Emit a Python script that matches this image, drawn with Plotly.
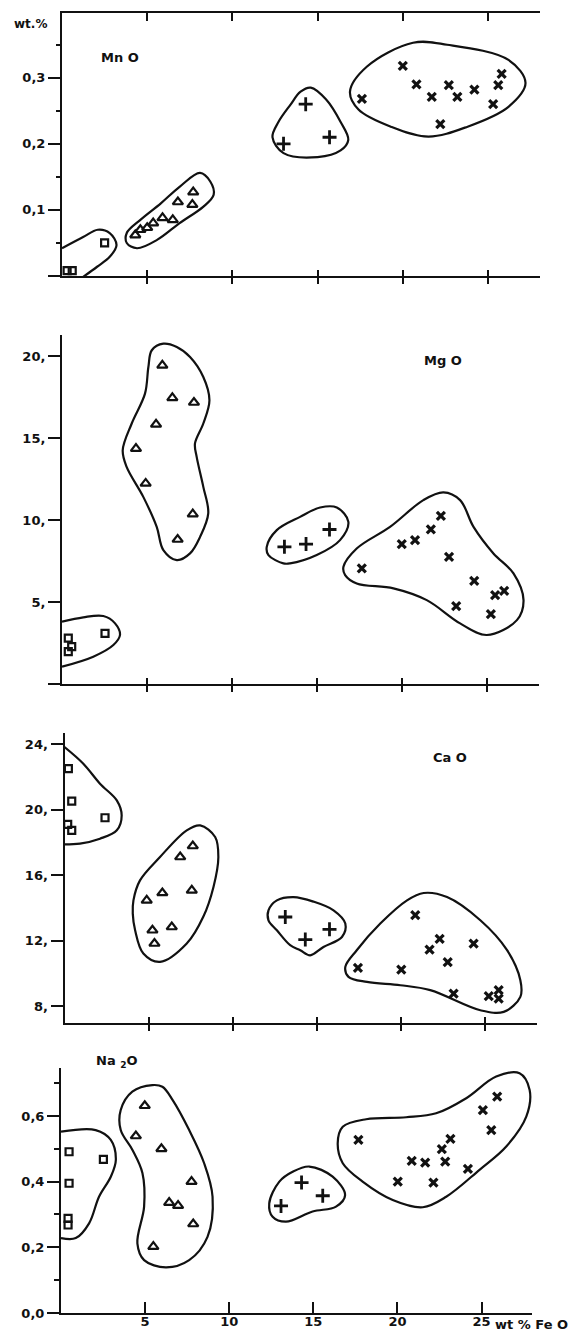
import plotly.graph_objects as go

# ---------------- data ----------------
FEO_TICKS = [5, 10, 15, 20, 25]
FEO_TICK_TEXT = ["5", "10", "15", "20", "25"]

MNO_TICKS = [0.1, 0.2, 0.3]
MNO_TICK_TEXT = ["0,1", "0,2", "0,3"]
MNO_MINOR = [0.05, 0.15, 0.25, 0.35]
MGO_TICKS = [5, 10, 15, 20]
MGO_TICK_TEXT = ["5,", "10,", "15,", "20,"]
CAO_TICKS = [8, 12, 16, 20, 24]
CAO_TICK_TEXT = ["8,", "12,", "16,", "20,", "24,"]
NA2O_TICKS = [0, 0.2, 0.4, 0.6]
NA2O_TICK_TEXT = ["0,0", "0,2", "0,4", "0,6"]
NA2O_MINOR = [0.1, 0.3, 0.5, 0.7]
ZERO_TICK = [0]

# MnO vs FeO
MNO_SQUARES = [(0.3, 0.008), (0.6, 0.008), (2.5, 0.05)]
MNO_TRIANGLES = [(4.3, 0.062), (4.6, 0.070), (5.0, 0.073), (5.35, 0.080), (5.9, 0.088),
                 (6.5, 0.085), (6.8, 0.112), (7.65, 0.108), (7.7, 0.127)]
MNO_PLUSES = [(13.0, 0.20), (14.3, 0.26), (15.7, 0.21)]
MNO_CROSSES = [(17.6, 0.268), (20.0, 0.318), (20.8, 0.29), (21.7, 0.271), (22.7, 0.289),
               (23.2, 0.271), (24.2, 0.282), (22.2, 0.23), (25.3, 0.26), (25.6, 0.289),
               (25.8, 0.306)]
MNO_SQUARES_ENV = [(0, 0.042), (1.24, 0.059), (2.1, 0.07), (2.8, 0.065), (3.2, 0.047),
                   (2.8, 0.029), (2.06, 0.014), (1.1, -0.004)]
MNO_TRIANGLES_ENV = [(3.8, 0.065), (4.6, 0.085), (5.8, 0.11), (6.9, 0.135), (8.1, 0.156),
                     (8.7, 0.143), (8.9, 0.123), (8.3, 0.105), (6.9, 0.08), (5.6, 0.055),
                     (4.4, 0.042), (3.8, 0.05)]
MNO_PLUSES_ENV = [(12.35, 0.21), (12.7, 0.233), (13.4, 0.259), (14.0, 0.279), (14.6, 0.285),
                  (15.5, 0.267), (16.35, 0.233), (16.8, 0.206), (16.35, 0.19), (15.0, 0.18),
                  (13.0, 0.186)]
MNO_CROSSES_ENV = [(16.9, 0.279), (17.9, 0.317), (20.6, 0.353), (22.6, 0.35), (26.2, 0.327),
                   (27.2, 0.292), (26.2, 0.256), (23.8, 0.226), (21.5, 0.211), (19.3, 0.226),
                   (17.4, 0.252)]

# MgO vs FeO
MGO_SQUARES = [(0.37, 2.8), (0.57, 2.28), (0.37, 1.97), (2.53, 3.09)]
MGO_TRIANGLES = [(5.9, 19.45), (6.49, 17.46), (7.76, 17.18), (5.53, 15.85), (4.35, 14.37),
                 (4.92, 12.24), (7.69, 10.37), (6.8, 8.82)]
MGO_PLUSES = [(13.08, 8.37), (14.35, 8.54), (15.73, 9.43)]
MGO_CROSSES = [(17.63, 7.05), (19.98, 8.54), (20.76, 8.78), (21.69, 9.43), (22.28, 10.26),
               (22.76, 7.76), (24.24, 6.3), (23.18, 4.76), (25.47, 5.43), (26.0, 5.69),
               (25.22, 4.27)]
MGO_SQUARES_ENV = [(0, 3.8), (1.25, 4.07), (2.43, 4.15), (3.12, 3.7), (3.41, 2.99),
                   (3.02, 2.38), (1.84, 1.67), (0, 1.06)]
MGO_TRIANGLES_ENV = [(5.96, 20.77), (5.28, 20.37), (5.08, 19.35), (4.88, 17.72), (4.1, 15.9),
                     (3.57, 14.27), (3.8, 13.25), (4.78, 11.42), (5.57, 9.59), (5.96, 8.17),
                     (6.75, 7.56), (7.53, 7.97), (8.12, 8.98), (8.6, 10.41), (8.31, 12.03),
                     (7.92, 13.86), (7.82, 14.68), (8.31, 15.9), (8.67, 17.32), (8.31, 18.74),
                     (7.53, 19.96), (6.75, 20.57)]
MGO_PLUSES_ENV = [(12.04, 8.37), (12.63, 9.39), (14.0, 10.2), (15.18, 10.77), (16.16, 10.77),
                  (16.84, 9.9), (16.35, 8.78), (14.98, 7.87), (13.41, 7.36), (13.02, 7.36),
                  (12.14, 7.87)]
MGO_CROSSES_ENV = [(16.55, 7.15), (17.33, 8.27), (19.29, 9.59), (21.25, 11.22), (22.43, 11.69),
                   (23.41, 11.22), (24.2, 9.59), (25.37, 7.97), (26.55, 6.75), (27.14, 5.12),
                   (26.75, 3.9), (24.98, 2.99), (23.41, 3.7), (21.45, 5.12), (19.49, 5.84),
                   (17.33, 6.14), (16.65, 6.65)]

# CaO vs FeO
CAO_SQUARES = [(0.23, 22.52), (0.43, 20.54), (0.19, 19.11), (0.43, 18.75), (2.41, 19.52)]
CAO_TRIANGLES = [(4.89, 14.47), (5.82, 14.92), (5.23, 12.64), (5.35, 11.83), (6.38, 12.84),
                 (7.57, 15.08), (6.88, 17.12), (7.63, 17.79)]
CAO_PLUSES = [(13.13, 13.45), (14.32, 12.07), (15.76, 12.7)]
CAO_CROSSES = [(17.45, 10.34), (20.03, 10.24), (20.86, 13.56), (22.31, 12.11), (21.71, 11.46),
               (22.79, 10.69), (24.33, 11.83), (23.14, 8.76), (25.23, 8.61), (25.82, 8.98),
               (25.82, 8.46)]
CAO_SQUARES_ENV = [(0, 23.84), (1.12, 22.82), (2.11, 21.6), (3.11, 20.58), (3.4, 19.66),
                   (3.11, 18.75), (2.11, 18.24), (0.92, 17.94), (0, 17.89)]
CAO_TRIANGLES_ENV = [(4.1, 14.47), (4.49, 15.69), (5.68, 17.12), (7.27, 18.75), (8.07, 19.05),
                     (8.96, 18.34), (9.15, 17.12), (8.86, 15.29), (8.26, 13.48), (7.27, 11.83),
                     (5.68, 10.71), (4.69, 11.22), (4.2, 12.64), (4.06, 13.66)]
CAO_PLUSES_ENV = [(12.13, 13.86), (12.63, 14.47), (13.62, 14.67), (14.81, 14.39), (16.0, 13.86),
                  (16.7, 13.05), (16.5, 12.23), (15.4, 11.62), (14.61, 11.11), (14.02, 11.42),
                  (13.42, 11.73), (12.63, 12.64), (12.13, 13.25)]
CAO_CROSSES_ENV = [(16.7, 10.4), (17.38, 11.42), (18.78, 13.05), (20.37, 14.47), (21.36, 14.92),
                   (22.75, 14.67), (24.73, 13.25), (26.32, 11.42), (27.11, 9.59), (27.11, 8.57),
                   (26.12, 7.65), (24.73, 7.75), (21.75, 8.98), (19.97, 9.28), (17.99, 9.48),
                   (16.89, 9.79)]

# Na2O vs FeO
NA2O_SQUARES = [(0.48, 0.491), (0.48, 0.395), (0.42, 0.288), (0.42, 0.268), (2.52, 0.468)]
NA2O_TRIANGLES = [(4.98, 0.631), (4.45, 0.539), (5.97, 0.5), (7.76, 0.4), (6.43, 0.336),
                  (6.96, 0.327), (7.86, 0.271), (5.49, 0.202)]
NA2O_PLUSES = [(13.08, 0.326), (14.3, 0.397), (15.56, 0.357)]
NA2O_CROSSES = [(17.68, 0.527), (20.02, 0.4), (20.85, 0.463), (21.65, 0.458), (22.14, 0.397),
                (22.64, 0.499), (22.84, 0.461), (23.15, 0.53), (24.19, 0.439), (25.08, 0.618),
                (25.58, 0.557), (25.93, 0.659)]
NA2O_SQUARES_ENV = [(0, 0.552), (2.06, 0.557), (2.96, 0.527), (3.26, 0.466), (2.96, 0.415),
                    (2.26, 0.354), (1.67, 0.273), (0.88, 0.228), (0, 0.228)]
NA2O_TRIANGLES_ENV = [(5.43, 0.694), (4.24, 0.674), (3.55, 0.618), (3.55, 0.557), (4.24, 0.497),
                      (4.84, 0.426), (4.94, 0.324), (4.54, 0.212), (4.94, 0.161), (6.23, 0.139),
                      (7.62, 0.161), (8.71, 0.232), (9.01, 0.354), (8.51, 0.456), (7.62, 0.557),
                      (6.63, 0.649), (6.03, 0.689)]
NA2O_PLUSES_ENV = [(12.38, 0.334), (12.98, 0.4), (13.77, 0.43), (14.76, 0.446), (16.15, 0.415),
                   (16.89, 0.359), (16.35, 0.324), (14.96, 0.309), (13.37, 0.278), (12.58, 0.293)]
NA2O_CROSSES_ENV = [(16.45, 0.517), (16.75, 0.567), (18.14, 0.59), (20.52, 0.596), (22.3, 0.608),
                    (24.09, 0.654), (25.87, 0.72), (27.26, 0.73), (27.86, 0.679), (27.66, 0.598),
                    (26.47, 0.507), (24.88, 0.436), (22.9, 0.354), (21.51, 0.322), (19.72, 0.344),
                    (17.93, 0.4), (16.75, 0.456)]

# ---------------- styling / layout ----------------
W, H = 588, 1333
INK = "#111111"
FONT = "DejaVu Sans"

PANELS = [
    dict(n="", l=62, r=540, t=13, b=276, yr=[0, 0.398], xr=[0, 28.05]),
    dict(n="2", l=62, r=539, t=335, b=684, yr=[0, 21.3], xr=[0, 28.05]),
    dict(n="3", l=64.5, r=537, t=733, b=1023, yr=[6.97, 24.7], xr=[0, 28.1]),
    dict(n="4", l=61, r=532, t=1068, b=1313, yr=[0, 0.746], xr=[0, 28.0]),
]

SYMBOLS = {
    "sq": dict(symbol="square-open", size=7, line=dict(width=2.2, color=INK)),
    "tri": dict(symbol="triangle-up-open", size=9, line=dict(width=2.2, color=INK)),
    "plus": dict(symbol="cross-thin-open", size=10, line=dict(width=2.8, color=INK)),
    "x": dict(symbol="x-thin-open", size=8, line=dict(width=3.2, color=INK)),
}

fig = go.Figure()


def xy(pts):
    return [p[0] for p in pts], [p[1] for p in pts]


def add_points(pts, kind, n):
    x, y = xy(pts)
    fig.add_trace(go.Scatter(x=x, y=y, mode="markers", marker=dict(color=INK, **SYMBOLS[kind]),
                             xaxis="x" + n, yaxis="y" + n, cliponaxis=False,
                             showlegend=False, hoverinfo="skip"))


def add_env(pts, n, closed=True):
    x, y = xy(pts)
    if closed:
        x = x + [x[0]]
        y = y + [y[0]]
    fig.add_trace(go.Scatter(x=x, y=y, mode="lines",
                             line=dict(color=INK, width=2.2, shape="spline", smoothing=1.0),
                             xaxis="x" + n, yaxis="y" + n, showlegend=False, hoverinfo="skip"))


GROUPS = [
    ("", MNO_SQUARES, MNO_TRIANGLES, MNO_PLUSES, MNO_CROSSES,
     MNO_SQUARES_ENV, MNO_TRIANGLES_ENV, MNO_PLUSES_ENV, MNO_CROSSES_ENV),
    ("2", MGO_SQUARES, MGO_TRIANGLES, MGO_PLUSES, MGO_CROSSES,
     MGO_SQUARES_ENV, MGO_TRIANGLES_ENV, MGO_PLUSES_ENV, MGO_CROSSES_ENV),
    ("3", CAO_SQUARES, CAO_TRIANGLES, CAO_PLUSES, CAO_CROSSES,
     CAO_SQUARES_ENV, CAO_TRIANGLES_ENV, CAO_PLUSES_ENV, CAO_CROSSES_ENV),
    ("4", NA2O_SQUARES, NA2O_TRIANGLES, NA2O_PLUSES, NA2O_CROSSES,
     NA2O_SQUARES_ENV, NA2O_TRIANGLES_ENV, NA2O_PLUSES_ENV, NA2O_CROSSES_ENV),
]

for n, sq, tri, pl, cr, sqe, trie, ple, cre in GROUPS:
    add_env(sqe, n, closed=False)
    add_env(trie, n)
    add_env(ple, n)
    add_env(cre, n)
    add_points(sq, "sq", n)
    add_points(tri, "tri", n)
    add_points(pl, "plus", n)
    add_points(cr, "x", n)

tickfont = dict(family=FONT, size=13, color=INK, weight="bold")
# (major ticks, labels, short minor ticks, long unlabeled tick at the axis origin)
YTICKS = [
    (MNO_TICKS, MNO_TICK_TEXT, MNO_MINOR, ZERO_TICK),
    (MGO_TICKS, MGO_TICK_TEXT, None, ZERO_TICK),
    (CAO_TICKS, CAO_TICK_TEXT, None, None),
    (NA2O_TICKS, NA2O_TICK_TEXT, NA2O_MINOR, None),
]

layout = dict(width=W, height=H, margin=dict(l=0, r=0, t=0, b=0),
              paper_bgcolor="white", plot_bgcolor="white", showlegend=False)


def dummy(xa, ya):
    fig.add_trace(go.Scatter(x=[None], y=[None], xaxis=xa, yaxis=ya,
                             showlegend=False, hoverinfo="skip"))


extra_x = 5
extra_y = 5
for i, p in enumerate(PANELS):
    n = p["n"]
    xd = [p["l"] / W, p["r"] / W]
    yd = [1 - p["b"] / H, 1 - p["t"] / H]
    last = i == len(PANELS) - 1
    layout["xaxis" + n] = dict(domain=xd, range=p["xr"], anchor="y" + n, showline=True,
                               linecolor=INK, linewidth=2,
                               ticks="inside" if last else "outside",
                               ticklen=11 if last else 6, tickwidth=2, tickcolor=INK,
                               tickvals=FEO_TICKS, ticktext=FEO_TICK_TEXT, showticklabels=last,
                               ticklabelstandoff=-5 if last else 0,
                               tickfont=tickfont, showgrid=False, zeroline=False,
                               automargin=False)
    tv, tt, mn, zt = YTICKS[i]
    yax = dict(domain=yd, range=p["yr"], anchor="x" + n, showline=True, linecolor=INK,
               linewidth=2, ticks="outside", ticklen=12, tickwidth=2, tickcolor=INK,
               tickvals=tv, ticktext=tt, tickfont=tickfont, showgrid=False, zeroline=False,
               automargin=False)
    if zt:
        yax["minor"] = dict(tickvals=zt, ticks="outside", ticklen=12, tickwidth=2,
                            tickcolor=INK, showgrid=False)
    elif mn:
        yax["minor"] = dict(tickvals=mn, ticks="outside", ticklen=5, tickwidth=2,
                            tickcolor=INK, showgrid=False)
    layout["yaxis" + n] = yax
    # short minor ticks when the origin tick already uses the minor slot
    if zt and mn:
        k = str(extra_y)
        extra_y += 1
        layout["yaxis" + k] = dict(overlaying="y" + n, anchor="x" + n, side="left",
                                   range=p["yr"], showline=False, ticks="outside", ticklen=5,
                                   tickwidth=2, tickcolor=INK, tickvals=mn,
                                   showticklabels=False, showgrid=False, zeroline=False)
        dummy("x" + n, "y" + k)
    # inside half of crossing ticks on the bottom axis
    if not last:
        k = str(extra_x)
        extra_x += 1
        layout["xaxis" + k] = dict(overlaying="x" + n, anchor="y" + n, side="bottom",
                                   range=p["xr"], showline=False, ticks="inside", ticklen=6,
                                   tickwidth=2, tickcolor=INK, tickvals=FEO_TICKS,
                                   showticklabels=False, showgrid=False, zeroline=False)
        dummy("x" + k, "y" + n)
    # top frame line of the first panel
    if i == 0:
        k = str(extra_x)
        extra_x += 1
        layout["xaxis" + k] = dict(overlaying="x", anchor="y", side="top", range=p["xr"],
                                   showline=True, linecolor=INK, linewidth=2, ticks="inside",
                                   ticklen=8, tickwidth=2, tickcolor=INK, tickvals=FEO_TICKS,
                                   showticklabels=False, showgrid=False, zeroline=False)
        dummy("x" + k, "y")

labfont = dict(family=FONT, size=13, color=INK, weight="bold")
layout["annotations"] = [
    dict(text="wt.%", xref="paper", yref="paper", x=30 / W, y=1 - 24 / H, xanchor="center",
         yanchor="middle", showarrow=False,
         font=dict(family=FONT, size=12, color=INK, weight="bold")),
    dict(text="Mn O", xref="x", yref="y", x=2.2, y=0.33, xanchor="left", yanchor="middle",
         showarrow=False, font=labfont),
    dict(text="Mg O", xref="x2", yref="y2", x=22.4, y=19.76, xanchor="center",
         yanchor="middle", showarrow=False, font=labfont),
    dict(text="Ca O", xref="x3", yref="y3", x=22.95, y=23.2, xanchor="center",
         yanchor="middle", showarrow=False, font=labfont),
    dict(text="Na <sub>2</sub>O", xref="paper", yref="paper", x=94 / W, y=1 - 1061 / H,
         xanchor="left", yanchor="middle", showarrow=False, font=labfont),
    dict(text="wt % Fe O", xref="paper", yref="paper", x=493 / W, y=1 - 1324 / H,
         xanchor="left", yanchor="middle", showarrow=False, font=labfont),
]

fig.update_layout(**layout)
fig.write_html("out.html", config={"displayModeBar": False},
               post_script="document.body.style.margin='0';")
